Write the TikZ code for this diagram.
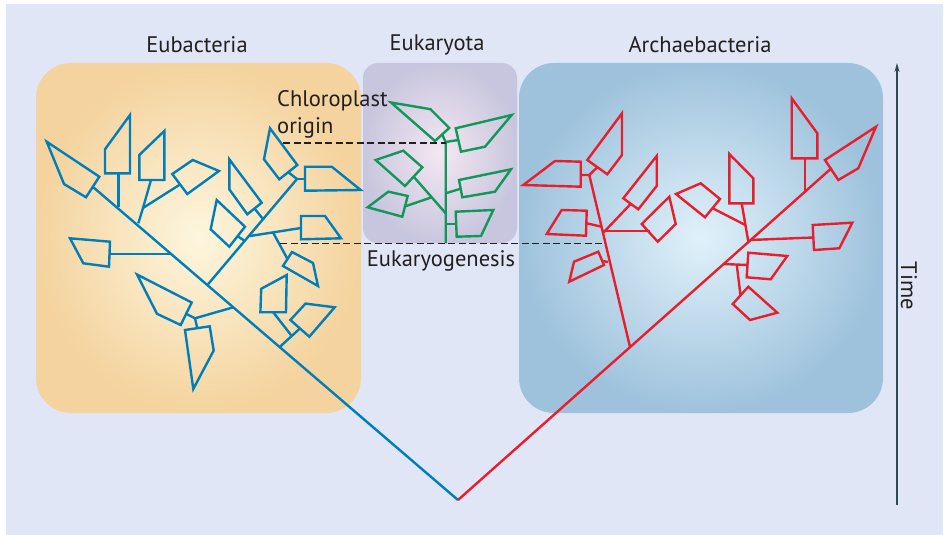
\documentclass[tikz,border=0pt]{standalone}
\usepackage{fontspec}
\setmainfont{PT Sans}
\usepackage{tikz}
\usetikzlibrary{arrows.meta,positioning,calc}
\usepackage{xcolor}
\definecolor{bgblue}{RGB}{224,230,245}
\definecolor{eubedge}{RGB}{244,211,158}
\definecolor{eubmid}{RGB}{253,246,222}
\definecolor{eukedge}{RGB}{200,198,222}
\definecolor{eukmid}{RGB}{244,231,241}
\definecolor{arcedge}{RGB}{158,194,220}
\definecolor{arcmid}{RGB}{224,241,250}
\definecolor{treeblue}{RGB}{0,126,186}
\definecolor{treered}{RGB}{232,30,45}
\definecolor{treegreen}{RGB}{18,150,90}
\definecolor{timeline}{RGB}{40,75,85}
\definecolor{labeltext}{RGB}{35,31,32}

\begin{document}
\begin{tikzpicture}[x=1pt, y=-1pt,
    bluetree/.style={draw=treeblue, line width=2.4pt, line join=miter},
    redtree/.style={draw=treered, line width=2.4pt, line join=miter},
    greentree/.style={draw=treegreen, line width=2.4pt, line join=miter},
    dashline/.style={draw=labeltext, line width=1.6pt, dash pattern=on 7pt off 3.5pt},
    boxlabel/.style={text=labeltext, font=\fontsize{22.5}{27}\selectfont, inner sep=0pt}]
    \useasboundingbox (0,0) rectangle (948,535);
    % Background
    \fill[white] (0,0) rectangle (948,535);
    \fill[bgblue] (6,4) rectangle (943,535);

    % Group boxes
    \shade[inner color=eubmid, outer color=eubedge, rounded corners=35pt] (36,63) rectangle (361,413);
    \shade[inner color=eukmid, outer color=eukedge, rounded corners=15pt] (363,63) rectangle (517,243);
    \shade[inner color=arcmid, outer color=arcedge, rounded corners=35pt] (519,63) rectangle (883,413);

    % Group labels
    \node[boxlabel] (eubac) at (197,45) {Eubacteria};
    \node[boxlabel] (eukar) at (437,45) {Eukaryota};
    \node[boxlabel] (archae) at (700,45) {Archaebacteria};

    % Time axis
    \coordinate (tbot) at (897,505);
    \coordinate (ttop) at (897,63);
    \draw[timeline, line width=1.4pt, -{Stealth[length=9pt,width=5pt]}] (tbot) -- (ttop);
    \node[boxlabel, rotate=-90] (time) at (909,286) {Time};

    % Root of both trees
    \coordinate (root) at (458,500);

    % Eubacteria tree
    \draw[bluetree] (root) -- (93,187);
    \draw[bluetree] (46.7,141.7) -- (99.3,176.7) -- (86,197.3) -- (64,184) -- cycle;
    \draw[bluetree] (118.3,207.3) -- (118.3,173.3);
    \draw[bluetree] (105,173.3) -- (130,173.3) -- (130,115) -- (105,149.3) -- cycle;
    \draw[bluetree] (138.3,223.3) -- (143,208) -- (151,180);
    \draw[bluetree] (143,208) -- (180,184.5);
    \draw[bluetree] (139.3,180) -- (164.3,180) -- (164.3,131) -- (139.3,155) -- cycle;
    \draw[bluetree] (172.3,174) -- (192.7,160) -- (219,171) -- (187.3,194) -- cycle;
    \draw[bluetree] (171.7,254) -- (110,254);
    \draw[bluetree] (70,238.3) -- (110,241.7) -- (109,266.7) -- (83.3,263.3) -- cycle;
    % upper side branch
    \draw[bluetree] (207.4,285) -- (297,179) -- (288,172);
    \draw[bluetree] (297,179) -- (305,179);
    \draw[bluetree] (270,128.3) -- (297.3,165) -- (279.3,179.3) -- (264,159.3) -- cycle;
    \draw[bluetree] (305,166.7) -- (331.7,166.7) -- (360.7,190) -- (305,190.7) -- cycle;
    \draw[bluetree] (263,219) -- (254.5,208.5);
    \draw[bluetree] (229.3,159.3) -- (261.7,202.7) -- (247.3,214.3) -- (229.3,189.3) -- cycle;
    \draw[bluetree] (245,241) -- (238,236.5);
    \draw[bluetree] (216.7,200) -- (245,226.7) -- (229.3,246.7) -- (210.7,229.3) -- cycle;
    \draw[bluetree] (250,236) -- (301,228);
    \draw[bluetree] (301,216) -- (325,216) -- (341,238.3) -- (301,239.3) -- cycle;
    \draw[bluetree] (273,232.4) -- (287.5,259);
    \draw[bluetree] (283,266) -- (292,252) -- (313,263) -- (318,286) -- cycle;
    % lower side branches
    \draw[bluetree] (233.3,307.3) -- (195,318.3) -- (186.2,313.8);
    \draw[bluetree] (195,318.3) -- (197.3,328.2);
    \draw[bluetree] (137,274.5) -- (191.7,302.5) -- (180.7,325) -- (157,313.8) -- cycle;
    \draw[bluetree] (185,330) -- (209.7,326.3) -- (213.7,350.5) -- (193.3,389) -- cycle;
    \draw[bluetree] (279.7,347) -- (300,328.4);
    \draw[bluetree] (291.7,336) -- (273.2,312.2);
    \draw[bluetree] (261.2,288.8) -- (286.7,275) -- (286,312.2) -- (260.4,312.2) -- cycle;
    \draw[bluetree] (290.4,320) -- (305.5,303.6) -- (334.7,307.3) -- (309.3,336.7) -- cycle;

    % Eukaryota tree
    \draw[greentree] (445.7,243.3) -- (445.7,142) -- (442.1,134.5);
    \draw[greentree] (445.7,142) -- (458.3,140);
    \draw[greentree] (391,102.5) -- (430.5,109.2) -- (449.2,128) -- (435,141) -- cycle;
    \draw[greentree] (455.7,128.3) -- (511.7,115) -- (485,146.7) -- (461,151.7) -- cycle;
    \draw[greentree] (445.7,193.3) -- (460.7,188.7);
    \draw[greentree] (459,180) -- (511,169.3) -- (495,191.7) -- (462.3,197.3) -- cycle;
    \draw[greentree] (445.7,224) -- (456,224);
    \draw[greentree] (455.7,211.7) -- (493.3,210) -- (481,236) -- (456.7,236.7) -- cycle;
    \draw[greentree] (445.7,213.3) -- (413.7,176.7);
    \draw[greentree] (375.7,160) -- (403.3,150.7) -- (422.3,167.3) -- (405,186) -- cycle;
    \draw[greentree] (431.7,197.3) -- (405,206.4);
    \draw[greentree] (367.7,207.3) -- (388.3,191.7) -- (407.7,196) -- (402.3,216.7) -- cycle;

    % Archaebacteria tree
    \draw[redtree] (root) -- (831.7,168);
    \draw[redtree] (825,160) -- (876,126.7) -- (858.3,168.3) -- (838.3,180) -- cycle;
    % left side branch
    \draw[redtree] (630,347) -- (589.3,175) -- (580.7,175);
    \draw[redtree] (589.3,175) -- (597.3,167.2);
    \draw[redtree] (523.3,185) -- (555,161) -- (580.7,161.7) -- (580.7,186.7) -- cycle;
    \draw[redtree] (587.3,160) -- (622,113.3) -- (622,155) -- (607.3,174.3) -- cycle;
    \draw[redtree] (601.5,226.7) -- (586.3,223.2);
    \draw[redtree] (546.7,234) -- (561.7,210) -- (586.7,210.7) -- (586,235.7) -- cycle;
    \draw[redtree] (608,262) -- (603,261);
    \draw[redtree] (569.3,281.7) -- (574,261.7) -- (598.3,251.7) -- (604,265) -- cycle;
    \draw[redtree] (603,233) -- (630.8,203.8);
    \draw[redtree] (623.3,198.3) -- (656.7,156) -- (656.7,186) -- (638.3,209.3) -- cycle;
    \draw[redtree] (603,231) -- (649.7,231);
    \draw[redtree] (641.7,224) -- (669.3,196.7) -- (675.7,224) -- (657.7,241.7) -- cycle;
    % right side branches
    \draw[redtree] (748.3,241.6) -- (741.7,203.3);
    \draw[redtree] (729.3,154) -- (753.3,178.3) -- (753.3,203.3) -- (729.3,203.3) -- cycle;
    \draw[redtree] (745.3,225) -- (712.5,208.2);
    \draw[redtree] (676,194) -- (700.7,183.3) -- (720,199) -- (705,217.3) -- cycle;
    \draw[redtree] (750,240) -- (813.3,237.5);
    \draw[redtree] (812.7,225) -- (852.3,222.7) -- (839.3,248.3) -- (814,250) -- cycle;
    \draw[redtree] (805,191.2) -- (805,158.3);
    \draw[redtree] (791.7,98.3) -- (817.3,133.3) -- (817.3,158.3) -- (791.7,158.3) -- cycle;
    \draw[redtree] (723.3,264) -- (747.5,265);
    \draw[redtree] (748.3,252.7) -- (787.3,256) -- (770.7,279.3) -- (746.7,277.3) -- cycle;
    \draw[redtree] (736.7,264.3) -- (740.5,295.3);
    \draw[redtree] (732.7,304) -- (748.3,286.7) -- (777.3,312.7) -- (750,320) -- cycle;

    % Event markers
    \coordinate (chlA) at (283,143);
    \coordinate (chlB) at (445.7,143);
    \draw[dashline] (chlA) -- (chlB);
    \coordinate (eukA) at (280,243.3);
    \coordinate (eukB) at (604,243.3);
    \draw[dashline] (eukA) -- (eukB);
    \node[boxlabel, align=left, anchor=north west] (chloro) at (277,90) {Chloroplast\\origin};
    \node[boxlabel, anchor=base] (eukgen) at (441,266.7) {Eukaryogenesis};
\end{tikzpicture}
\end{document}
